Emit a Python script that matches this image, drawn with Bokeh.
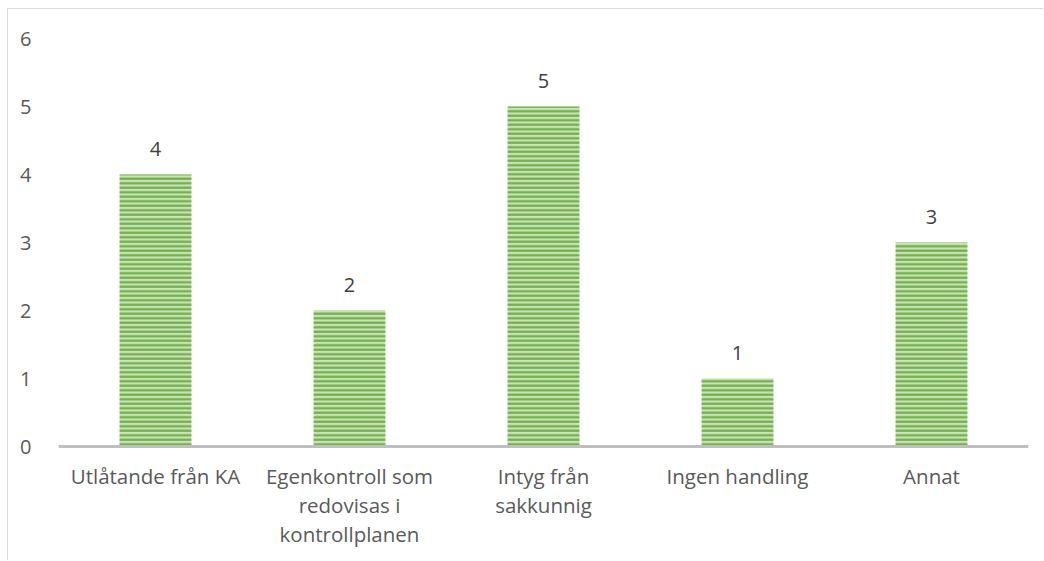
from bokeh.plotting import figure
from bokeh.models import ColumnDataSource, Range1d, FixedTicker
from bokeh.core.properties import value
from bokeh.embed import file_html
from bokeh.resources import INLINE

categories = ["Utlåtande från KA", "Egenkontroll som redovisas i kontrollplanen",
              "Intyg från sakkunnig", "Ingen handling", "Annat"]
tick_labels = ["Utlåtande från KA", "Egenkontroll som\nredovisas i\nkontrollplanen",
               "Intyg från\nsakkunnig", "Ingen handling", "Annat"]
counts = [4, 2, 5, 1, 3]
positions = [1, 2, 3, 4, 5]

src = ColumnDataSource(dict(x=positions, cat=categories, val=counts, tick=tick_labels,
                            zero=[0] * len(counts), lbl=[str(v) for v in counts]))

# frame extends below the baseline so that the category labels sit inside it
p = figure(x_range=Range1d(0.5, 5.5), y_range=Range1d(-115 / 68, 6),
           width=1036, height=552, output_backend="svg", toolbar_location=None,
           min_border_left=50, min_border_right=16, min_border_top=29, min_border_bottom=0)
p.styles = {"margin-left": "7px", "margin-top": "8px",
            "border-left": "1px solid #d9d9d9", "border-top": "1px solid #d9d9d9"}
p.outline_line_color = None
p.xgrid.visible = False
p.ygrid.visible = False
p.xaxis.visible = False

p.vbar(x="x", top="val", width=0.37, source=src, fill_color="#c9e3b8",
       line_color=None, hatch_pattern="horizontal_line", hatch_color="#70ad47",
       hatch_scale=4.5, hatch_weight=2.2)

# category axis line
p.hspan(y=[0], line_color="#bfbfbf", line_width=3)

p.text(x="x", y="val", text="lbl", source=src, y_offset=-19,
       text_align="center", text_baseline="bottom", text_font=value("Open Sans"),
       text_font_size="20px", text_color="#404040")

p.text(x="x", y="zero", text="tick", source=src, y_offset=15,
       text_align="center", text_baseline="top", text_font=value("Open Sans"),
       text_font_size="20.5px", text_color="#595959", text_line_height=1.04)

p.yaxis.ticker = FixedTicker(ticks=[0, 1, 2, 3, 4, 5, 6])
p.yaxis.axis_line_color = None
p.yaxis.major_tick_line_color = None
p.yaxis.minor_tick_line_color = None
p.yaxis.major_label_text_font = "Open Sans"
p.yaxis.major_label_text_font_size = "20px"
p.yaxis.major_label_text_color = "#595959"
p.yaxis.major_label_standoff = 21

open("out.html", "w").write(file_html(p, INLINE))
